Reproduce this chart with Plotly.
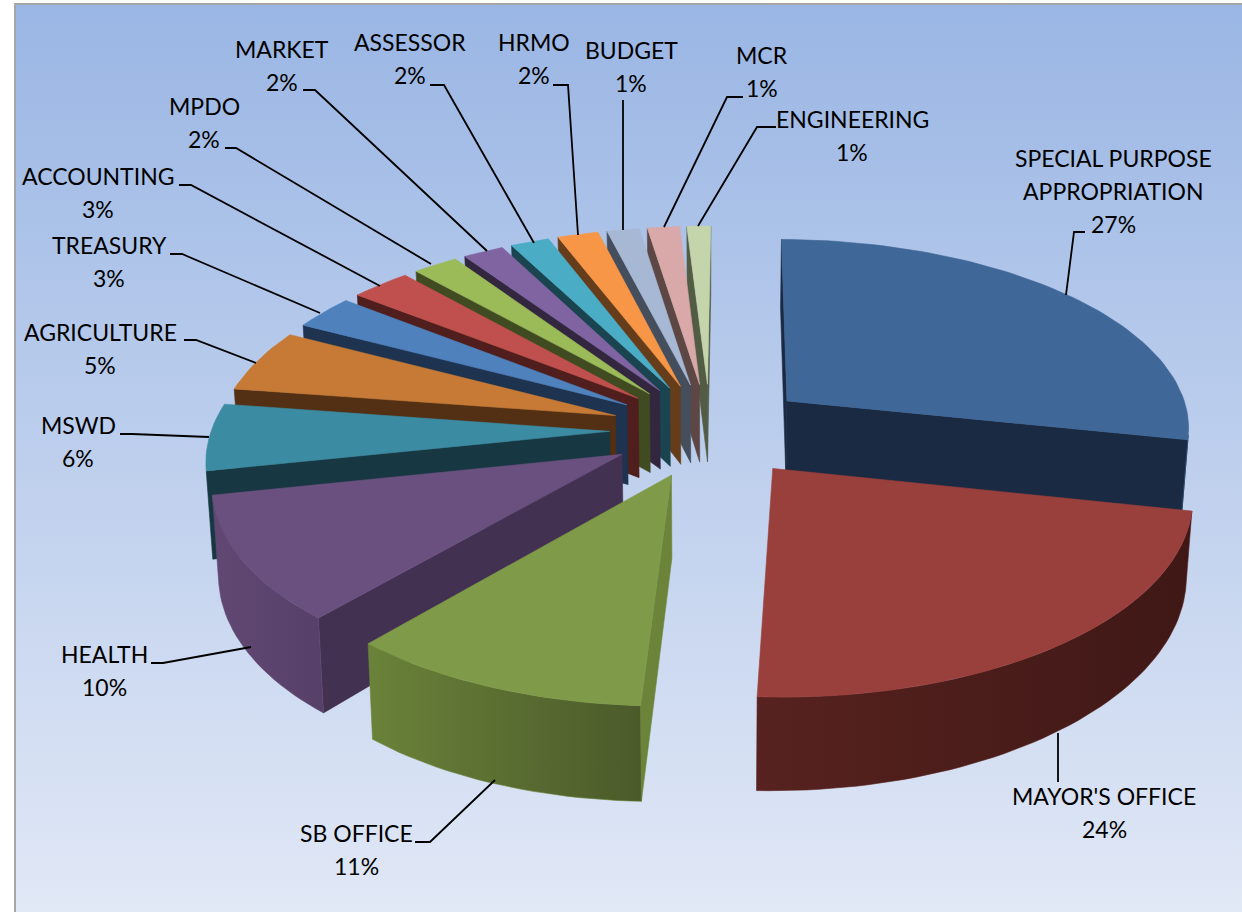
import math
import plotly.graph_objects as go

# ---- data ----
categories = ["SPECIAL PURPOSE APPROPRIATION", "MAYOR'S OFFICE", "SB OFFICE", "HEALTH", "MSWD",
              "AGRICULTURE", "TREASURY", "ACCOUNTING", "MPDO", "MARKET", "ASSESSOR", "HRMO",
              "BUDGET", "MCR", "ENGINEERING"]
# percentages as printed on the labels
printed_percent = [27, 24, 11, 10, 6, 5, 3, 3, 2, 2, 2, 2, 1, 1, 1]
# slice sizes as they appear in the drawn pie
slice_share = [28.2, 22.5, 10.5, 10.4, 5.6, 5.3, 2.9, 2.8, 2.1, 1.9, 1.8, 1.9, 1.5, 1.5, 1.1]

# ---- styles ----
top_colors = ["#3f6797", "#9a403c", "#7f9a48", "#69507f", "#3b8ba2", "#c67a35", "#4f81bd", "#c0504d",
              "#9bbb59", "#8064a2", "#4bacc6", "#f79646", "#a7b8d5", "#d9a8a8", "#c5d5ab"]
face_colors = ["#192a42", "#52201f", "#6b8439", "#433152", "#173742", "#532f14", "#1d334f", "#4f1e1d",
               "#404b22", "#33273f", "#1a4450", "#663d1b", "#454e5c", "#5c4745", "#525c45"]
arc_left = ["#2c4a6e", "#57221f", "#6a8239", "#604873", "#2a6577", "#8f5826", "#375e8a", "#8b3a38",
            "#718840", "#5c4876", "#367d91", "#b36d32", "#79859b", "#9e7a7a", "#8f9b7c"]
arc_right = ["#2c4a6e", "#3f1816", "#4b5a2a", "#574068", "#2a6577", "#8f5826", "#375e8a", "#8b3a38",
             "#718840", "#5c4876", "#367d91", "#b36d32", "#79859b", "#9e7a7a", "#8f9b7c"]

# ---- projection of the 3-D pie onto the page ----
CX, CY = 710, 430
SX, SY, K, G = 401.8, 189, 0.127, 2.4
EXPLODE = 0.25
DEPTH = 80
DEPTH_TILT = 0.06
CONVERGE = 0.987
ROTATION = math.radians(0.5)


def project(X, V, bottom=False):
    w = 1 - K * V
    x = CX + SX * X / w + G * X * X
    y = CY + SY * V / w
    if bottom:
        x = CX + (x - CX) * CONVERGE
        y += DEPTH / w * (1 - DEPTH_TILT * X)
    return x, y


def cross(o, a, b):
    return (a[0] - o[0]) * (b[1] - o[1]) - (a[1] - o[1]) * (b[0] - o[0])


def poly(points, color, name, gradient=None):
    xs = [p[0] for p in points] + [points[0][0]]
    ys = [p[1] for p in points] + [points[0][1]]
    kw = {}
    if gradient:
        kw["fillgradient"] = dict(type="horizontal", colorscale=[[0, gradient[0]], [1, gradient[1]]],
                                  start=min(xs), stop=max(xs))
    else:
        kw["fillcolor"] = color
    return go.Scatter(x=xs, y=ys, mode="lines", fill="toself", name=name, hoverinfo="skip",
                      line=dict(color=color, width=0.6), showlegend=False, **kw)


fig = go.Figure()

# page background (gradient panel)
fig.add_trace(go.Scatter(x=[15, 1242, 1242, 15, 15], y=[4, 4, 912, 912, 4], mode="lines", fill="toself",
                         line=dict(width=0), hoverinfo="skip", showlegend=False,
                         fillgradient=dict(type="vertical", colorscale=[[0, "#9ab6e4"], [1, "#e1e8f6"]],
                                           start=4, stop=912)))

total = sum(slice_share)
wedges = []
cum = 0
for i, v in enumerate(slice_share):
    a0 = ROTATION + cum / total * 2 * math.pi
    cum += v
    a1 = ROTATION + cum / total * 2 * math.pi
    wedges.append((i, a0, a1, (a0 + a1) / 2))

# painter's order: far wedges first
for i, a0, a1, mid in sorted(wedges, key=lambda t: -math.cos(t[3])):
    ox, ov = EXPLODE * math.sin(mid), -EXPLODE * math.cos(mid)
    n = max(6, int((a1 - a0) / math.radians(1.5)))
    angs = [a0 + (a1 - a0) * j / n for j in range(n + 1)]
    top = [project(ox + math.sin(a), ov - math.cos(a)) for a in angs]
    bot = [project(ox + math.sin(a), ov - math.cos(a), True) for a in angs]
    apex_t = project(ox, ov)
    apex_b = project(ox, ov, True)
    inner = project(ox + 0.5 * math.sin(mid), ov - 0.5 * math.cos(mid))

    for edge_t, edge_b in ((top[0], bot[0]), (top[-1], bot[-1])):
        s1 = cross(apex_t, edge_t, edge_b)
        s2 = cross(apex_t, edge_t, inner)
        if s1 * s2 < 0:
            fig.add_trace(poly([apex_t, edge_t, edge_b, apex_b], face_colors[i], categories[i] + " face"))

    # outer rim: only the segments turned to the viewer
    run = []
    runs = []
    for j in range(n):
        s1 = cross(top[j], top[j + 1], bot[j])
        s2 = cross(top[j], top[j + 1], inner)
        if s1 * s2 < 0:
            run.append(j)
        elif run:
            runs.append(run)
            run = []
    if run:
        runs.append(run)
    for r in runs:
        idx = r + [r[-1] + 1]
        pts = [top[j] for j in idx] + [bot[j] for j in reversed(idx)]
        fig.add_trace(poly(pts, arc_left[i], categories[i] + " rim", (arc_left[i], arc_right[i])))

    fig.add_trace(poly([apex_t] + top, top_colors[i], categories[i]))

# ---- labels and leader lines (layout only) ----
label_lines = {
    0: (1113, 158, ["SPECIAL PURPOSE", "APPROPRIATION"]),
    1: (1104, 796, ["MAYOR'S OFFICE"]),
    2: (356, 833, ["SB OFFICE"]),
    3: (104, 654, ["HEALTH"]),
    4: (78, 425, ["MSWD"]),
    5: (100, 332, ["AGRICULTURE"]),
    6: (109, 245, ["TREASURY"]),
    7: (98, 176, ["ACCOUNTING"]),
    8: (204, 106, ["MPDO"]),
    9: (282, 49, ["MARKET"]),
    10: (410, 42, ["ASSESSOR"]),
    11: (534, 42, ["HRMO"]),
    12: (631, 50, ["BUDGET"]),
    13: (762, 55, ["MCR"]),
    14: (852, 119, ["ENGINEERING"]),
}
LEADERS = {
    0: [(1085, 232), (1074, 232), (1066, 295)],
    1: [(1058, 782), (1058, 733)],
    2: [(415, 842), (430, 842), (495, 780)],
    3: [(151, 663), (163, 663), (251, 647)],
    4: [(120, 434), (132, 434), (209, 437)],
    5: [(184, 340), (196, 340), (256, 363)],
    6: [(170, 254), (182, 254), (320, 313)],
    7: [(179, 185), (191, 185), (380, 286)],
    8: [(225, 148), (236, 148), (431, 264)],
    9: [(303, 90), (315, 90), (487, 251)],
    10: [(430, 85), (444, 85), (534, 243)],
    11: [(553, 85), (568, 85), (578, 235)],
    12: [(623, 100), (623, 230)],
    13: [(743, 97), (727, 97), (664, 227)],
    14: [(776, 127), (757, 127), (698, 226)],
}
LINE_H = 33
annotations = []
for i, (x, y, lines) in label_lines.items():
    texts = lines + [f"{printed_percent[i]}%"]
    for j, t in enumerate(texts):
        annotations.append(dict(x=x, y=y + j * LINE_H, text=t, xref="x", yref="y", showarrow=False,
                                xanchor="center", yanchor="middle",
                                font=dict(family="Lato", size=23, color="#000000")))
    pts = LEADERS[i]
    fig.add_trace(go.Scatter(x=[p[0] for p in pts], y=[p[1] for p in pts], mode="lines",
                             line=dict(color="#000000", width=1.8), hoverinfo="skip", showlegend=False))

fig.update_layout(
    width=1242, height=912, margin=dict(l=0, r=0, t=0, b=0),
    paper_bgcolor="#ffffff", plot_bgcolor="rgba(0,0,0,0)", showlegend=False,
    xaxis=dict(range=[0, 1242], visible=False, fixedrange=True),
    yaxis=dict(range=[912, 0], visible=False, fixedrange=True),
    annotations=annotations,
    shapes=[dict(type="path", xref="x", yref="y", path="M 15 912 L 15 4 L 1242 4",
                 line=dict(color="#a6a6a6", width=2))],
)
fig.write_html("out.html", post_script="document.body.style.margin='0';document.documentElement.style.overflow='hidden';",
               config={"displayModeBar": False})
